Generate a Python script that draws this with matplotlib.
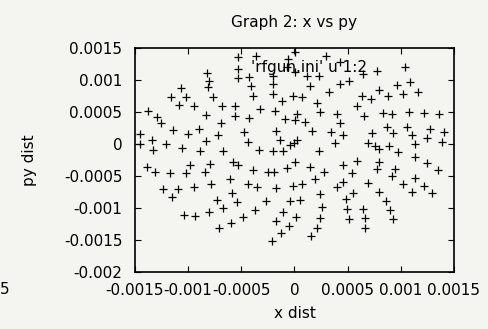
import matplotlib
matplotlib.use('Agg')
import matplotlib.pyplot as plt

plt.rcParams['font.family'] = ['DejaVu Sans']

# particle coordinates (x dist, py dist)
x_dist = [
    -5.31e-4, -5.31e-4, -5.31e-4, -8.23e-4, -8.04e-4, -8.16e-4, -10.70e-4, -11.59e-4, -10.23e-4, -10.83e-4,
    -9.42e-4, -7.66e-4, -6.82e-4, -5.57e-4, -5.62e-4, -8.35e-4, -13.75e-4, -12.93e-4, -12.53e-4, -6.94e-4,
    -11.40e-4, -9.01e-4, -9.99e-4, -7.19e-4, -8.29e-4, -14.50e-4, -14.50e-4, -13.37e-4, -13.31e-4, -12.11e-4,
    -10.58e-4, -8.86e-4, -6.72e-4,
    -13.87e-4, -13.12e-4, -11.71e-4, -10.18e-4, -9.86e-4, -8.44e-4, -7.97e-4, -5.78e-4, -5.29e-4, -6.04e-4,
    -12.37e-4, -10.96e-4, -11.49e-4, -9.42e-4, -7.82e-4, -5.88e-4, -5.38e-4, -7.26e-4, -6.72e-4, -8.04e-4,
    -10.39e-4, -9.36e-4, -7.13e-4, -5.94e-4, -4.84e-4,
    -4.25e-4, -4.12e-4, -3.87e-4, -3.62e-4, -2.05e-4, -2.05e-4, -2.05e-4, -1.15e-4, -0.11e-4, 0.71e-4,
    0.05e-4, 1.15e-4, 2.33e-4, 1.46e-4, 3.23e-4, 2.99e-4, 0.05e-4, -0.58e-4, -0.73e-4, 4.28e-4,
    4.28e-4, 5.17e-4, -3.24e-4, -1.83e-4, -4.25e-4, -0.89e-4, 0.21e-4, 0.05e-4, 0.99e-4, 2.14e-4,
    2.40e-4, 4.04e-4, 4.28e-4, 4.53e-4, 3.40e-4, 1.62e-4, -1.74e-4, -4.75e-4, -4.34e-4, -1.36e-4,
    0.26e-4, -0.42e-4, -0.05e-4, -3.31e-4, -1.99e-4, -1.11e-4, 2.33e-4, 3.81e-4,
    -3.93e-4, -2.52e-4, -1.90e-4, -0.73e-4, 0.08e-4, 1.46e-4, 2.77e-4, 4.59e-4, 1.93e-4, -4.34e-4,
    -3.55e-4, -1.74e-4, -0.11e-4, 0.68e-4, 4.02e-4, 4.59e-4, -2.68e-4, -0.42e-4, 0.52e-4, 2.40e-4,
    4.80e-4, -3.71e-4, -1.05e-4, 2.56e-4, 4.98e-4, -1.77e-4, 0.11e-4, 2.40e-4, 5.08e-4, -0.52e-4,
    2.09e-4, -1.27e-4, -2.14e-4, 1.52e-4,
    10.42e-4, 7.76e-4, 6.44e-4, 9.64e-4, 10.83e-4, 6.35e-4, 7.22e-4, 7.92e-4, 8.79e-4, 10.20e-4,
    11.61e-4, 5.88e-4, 6.51e-4, 8.32e-4, 9.17e-4, 10.74e-4, 12.21e-4, 13.56e-4, 7.29e-4, 8.70e-4,
    9.26e-4, 10.58e-4, 11.05e-4, 12.46e-4, 12.77e-4, 14.03e-4, 13.87e-4, 11.36e-4, 6.91e-4, 7.60e-4,
    7.92e-4, 8.86e-4, 9.71e-4,
    11.30e-4, 12.46e-4, 13.49e-4, 5.88e-4, 5.44e-4, 7.97e-4, 7.76e-4, 9.48e-4, 9.17e-4, 11.36e-4,
    10.20e-4, 12.21e-4, 11.05e-4, 12.93e-4, 6.91e-4, 5.50e-4, 7.92e-4, 8.60e-4, 8.95e-4, 9.23e-4,
    6.44e-4, 6.60e-4, 6.60e-4,
]
py_dist = [
    13.64e-4, 11.72e-4, 10.31e-4, 11.05e-4, 9.80e-4, 8.86e-4, 8.70e-4, 7.30e-4, 7.30e-4, 6.09e-4,
    5.98e-4, 7.39e-4, 5.89e-4, 5.89e-4, 4.42e-4, 4.58e-4, 5.20e-4, 4.27e-4, 3.23e-4, 3.28e-4,
    2.19e-4, 2.30e-4, 1.52e-4, 1.45e-4, 0.52e-4, 1.56e-4, 0.0, 0.63e-4, -0.89e-4, 0.0,
    -0.67e-4, -1.05e-4, -1.14e-4,
    -3.64e-4, -4.42e-4, -4.58e-4, -4.58e-4, -3.28e-4, -4.42e-4, -3.13e-4, -2.77e-4, -3.28e-4, -5.47e-4,
    -7.03e-4, -7.03e-4, -8.23e-4, -6.77e-4, -6.25e-4, -7.70e-4, -9.02e-4, -8.75e-4, -9.95e-4, -10.67e-4,
    -11.09e-4, -11.20e-4, -13.17e-4, -12.30e-4, -11.48e-4,
    10.52e-4, 9.11e-4, 7.55e-4, 13.75e-4, 10.67e-4, 9.38e-4, 7.73e-4, 6.67e-4, 7.55e-4, 7.30e-4,
    11.20e-4, 10.67e-4, 10.58e-4, 9.11e-4, 8.13e-4, 13.70e-4, 14.30e-4, 13.28e-4, 11.98e-4, 12.86e-4,
    9.38e-4, 9.84e-4, 5.47e-4, 5.20e-4, 4.06e-4, 3.91e-4, 4.69e-4, 3.75e-4, 3.39e-4, 6.36e-4,
    4.95e-4, 4.61e-4, 3.23e-4, 1.45e-4, 1.83e-4, 1.98e-4, 1.98e-4, 1.83e-4, 0.27e-4, 0.63e-4,
    0.63e-4, -0.11e-4, 0.16e-4, -0.94e-4, -1.14e-4, -1.05e-4, -1.05e-4, 0.11e-4,
    -4.06e-4, -4.42e-4, -4.42e-4, -3.80e-4, -2.77e-4, -3.64e-4, -4.33e-4, -3.28e-4, -5.47e-4, -6.30e-4,
    -6.67e-4, -6.92e-4, -6.56e-4, -6.30e-4, -6.67e-4, -5.98e-4, -8.91e-4, -8.91e-4, -8.75e-4, -7.81e-4,
    -8.59e-4, -10.31e-4, -10.58e-4, -9.89e-4, -10.20e-4, -12.03e-4, -11.36e-4, -11.52e-4, -11.77e-4, -12.81e-4,
    -13.08e-4, -13.95e-4, -15.11e-4, -14.38e-4,
    12.08e-4, 11.45e-4, 10.94e-4, 9.22e-4, 9.64e-4, 7.55e-4, 7.03e-4, 8.44e-4, 7.55e-4, 7.81e-4,
    8.08e-4, 5.98e-4, 4.42e-4, 4.80e-4, 4.69e-4, 4.95e-4, 4.80e-4, 4.69e-4, 1.67e-4, 2.70e-4,
    1.67e-4, 2.70e-4, 1.45e-4, 0.94e-4, 2.34e-4, 1.83e-4, 0.36e-4, 0.0, 0.11e-4, -0.27e-4,
    -0.78e-4, -0.27e-4, -1.25e-4,
    -2.08e-4, -3.02e-4, -4.06e-4, -2.66e-4, -4.48e-4, -2.86e-4, -3.91e-4, -3.95e-4, -5.00e-4, -5.36e-4,
    -6.25e-4, -6.52e-4, -7.55e-4, -7.70e-4, -6.05e-4, -7.70e-4, -7.45e-4, -8.91e-4, -10.31e-4, -11.72e-4,
    -10.20e-4, -11.61e-4, -13.08e-4,
]

xticks = [-0.0015, -0.001, -0.0005, 0, 0.0005, 0.001, 0.0015]
xtick_labels = ['-0.0015', '-0.001', '-0.0005', '0', '0.0005', '0.001', '0.0015']
yticks = [-0.002, -0.0015, -0.001, -0.0005, 0, 0.0005, 0.001, 0.0015]
ytick_labels = ['-0.002', '-0.0015', '-0.001', '-0.0005', '0', '0.0005', '0.001', '0.0015']

bg = '#f4f4f1'
fs = 11
fig = plt.figure(figsize=(4.88, 3.29), dpi=100, facecolor=bg)
ax = fig.add_axes([0.2766, 0.1733, 0.6537, 0.6809])
ax.set_facecolor(bg)

ax.plot(x_dist, py_dist, linestyle='none', marker='+', markersize=6,
        markeredgewidth=0.9, color='black')

ax.set_xlim(-0.0015, 0.0015)
ax.set_ylim(-0.002, 0.0015)
ax.set_xticks(xticks)
ax.set_xticklabels(xtick_labels)
ax.set_yticks(yticks)
ax.set_yticklabels(ytick_labels)
ax.tick_params(direction='in', length=4.5, width=0.8, top=True, right=True,
               labelsize=fs, colors='black')
ax.tick_params(axis='x', pad=8)
ax.tick_params(axis='y', pad=9)
for s in ax.spines.values():
    s.set_linewidth(1.2)

ax.set_title('Graph 2: x vs py', fontsize=fs, pad=15)
ax.set_xlabel('x dist', fontsize=fs)
ax.set_ylabel('py dist', fontsize=fs)
ax.xaxis.set_label_coords(0.5, -0.15)
ax.yaxis.set_label_coords(-0.307, 0.5)

# gnuplot key text
ax.text(0.727, 0.911, "'rfgun.ini' u 1:2", transform=ax.transAxes,
        ha='right', va='center', fontsize=fs)

# stray tick label of the neighbouring graph
fig.text(0.0, 1 - 289 / 329, '5', fontsize=fs, va='center', ha='left')

fig.savefig('out.png', dpi=100, facecolor=bg)
